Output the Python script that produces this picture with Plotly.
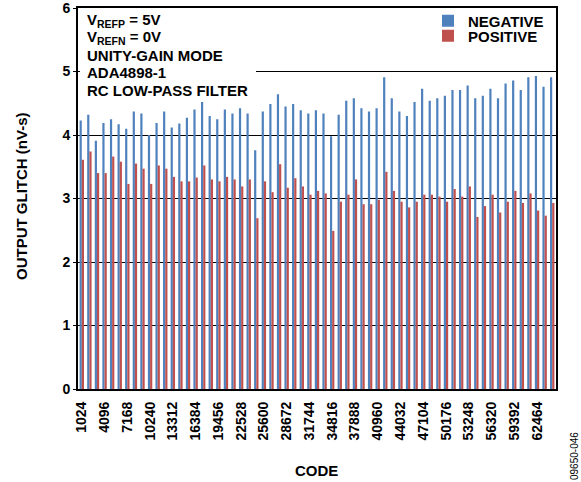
import plotly.graph_objects as go

# codes 1024 .. 64512, one every 1024
codes = ["1024", "2048", "3072", "4096", "5120", "6144", "7168", "8192", "9216", "10240",
         "11264", "12288", "13312", "14336", "15360", "16384", "17408", "18432", "19456", "20480",
         "21504", "22528", "23552", "24576", "25600", "26624", "27648", "28672", "29696", "30720",
         "31744", "32768", "33792", "34816", "35840", "36864", "37888", "38912", "39936", "40960",
         "41984", "43008", "44032", "45056", "46080", "47104", "48128", "49152", "50176", "51200",
         "52224", "53248", "54272", "55296", "56320", "57344", "58368", "59392", "60416", "61440",
         "62464", "63488", "64512"]

negative = [4.23, 4.32, 3.91, 4.19, 4.25, 4.17, 4.10, 4.37, 4.34, 4.00,
            4.19, 4.37, 4.12, 4.18, 4.27, 4.40, 4.52, 4.30, 4.25, 4.40,
            4.34, 4.42, 4.34, 3.76, 4.37, 4.49, 4.64, 4.45, 4.49, 4.39,
            4.34, 4.39, 4.34, 3.98, 4.32, 4.54, 4.58, 4.42, 4.37, 4.42,
            4.91, 4.58, 4.37, 4.30, 4.52, 4.73, 4.54, 4.58, 4.62, 4.71,
            4.71, 4.78, 4.58, 4.62, 4.73, 4.58, 4.81, 4.86, 4.71, 4.91,
            4.93, 4.76, 4.91]

positive = [3.61, 3.74, 3.40, 3.40, 3.66, 3.58, 3.23, 3.55, 3.47, 3.23,
            3.52, 3.47, 3.34, 3.27, 3.27, 3.33, 3.52, 3.30, 3.27, 3.34,
            3.30, 3.19, 3.30, 2.69, 3.27, 3.10, 3.54, 3.17, 3.32, 3.19,
            3.06, 3.12, 3.08, 2.49, 2.95, 3.06, 3.30, 2.91, 2.91, 2.98,
            3.42, 3.12, 2.95, 2.86, 2.95, 3.06, 3.06, 3.03, 2.95, 3.15,
            3.03, 3.19, 2.71, 2.88, 3.06, 2.78, 2.95, 3.12, 2.93, 3.08,
            2.81, 2.73, 2.93]

tick_labels = ["1024", "4096", "7168", "10240", "13312", "16384", "19456", "22528",
               "25600", "28672", "31744", "34816", "37888", "40960", "44032", "47104",
               "50176", "53248", "56320", "59392", "62464"]

y_ticks = [0, 1, 2, 3, 4, 5, 6]

conditions = ["V<sub>REFP</sub> = 5V", "V<sub>REFN</sub> = 0V", "UNITY-GAIN MODE",
              "ADA4898-1", "RC LOW-PASS FILTER"]

FONT = "Liberation Sans, Arial, sans-serif"
W, H = 581, 482
L, R, T, B = 78, 25, 8, 93
PW, PH = W - L - R, H - T - B


def px_x(x):
    return (x - L) / PW


def px_y(y):
    return (H - B - y) / PH


fig = go.Figure()
fig.add_trace(go.Bar(x=codes, y=negative, name="NEGATIVE", legend="legend",
                     marker=dict(color="#4F81BD", line=dict(width=0))))
fig.add_trace(go.Bar(x=codes, y=positive, name="POSITIVE", legend="legend2",
                     marker=dict(color="#C0504D", line=dict(width=0))))

leg = dict(xanchor="left", yanchor="middle", bgcolor="rgba(0,0,0,0)",
           font=dict(size=15, weight="bold"), itemwidth=30)

fig.update_layout(
    width=W, height=H,
    margin=dict(l=L, r=R, t=T, b=B, autoexpand=False),
    barmode="group", bargap=0.42, bargroupgap=0.0,
    plot_bgcolor="white", paper_bgcolor="white",
    font=dict(family=FONT, size=15, color="black", weight="bold"),
    legend=dict(x=px_x(428), y=px_y(21), **leg),
    legend2=dict(x=px_x(428), y=px_y(36), **leg),
    showlegend=True,
)

fig.update_yaxes(range=[0, 6], tickvals=y_ticks, showgrid=True, gridcolor="black", gridwidth=1,
                 zeroline=False, showline=True, linecolor="black", linewidth=2, mirror=True,
                 ticks="outside", ticklen=3, tickcolor="black", automargin=False,
                 ticklabeloverflow="allow", tickfont=dict(size=14, weight="bold"))
fig.update_xaxes(type="category", tickvals=tick_labels, ticktext=tick_labels, tickangle=-90,
                 showgrid=False, showline=True, linecolor="black", linewidth=2, mirror=True,
                 ticks="outside", ticklen=5, tickcolor="rgba(0,0,0,0)", automargin=False,
                 ticklabeloverflow="allow", tickfont=dict(size=14, weight="bold"))

# white box behind the conditions text, hides the 5 gridline on the left
fig.add_shape(type="rect", xref="paper", yref="paper", x0=px_x(80), x1=px_x(256),
              y0=px_y(100), y1=px_y(10), fillcolor="white", line=dict(width=0), layer="above")

line_y = [20, 37.5, 55, 73, 90.5]
for txt, yy in zip(conditions, line_y):
    fig.add_annotation(xref="paper", yref="paper", x=px_x(85), y=px_y(yy),
                       xanchor="left", yanchor="middle", showarrow=False, text=txt,
                       font=dict(size=15, weight="bold"))

fig.add_annotation(xref="paper", yref="paper", x=px_x(21), y=px_y(196), textangle=-90,
                   xanchor="center", yanchor="middle", showarrow=False,
                   text="OUTPUT GLITCH (nV-s)", font=dict(size=15, weight="bold"))
fig.add_annotation(xref="paper", yref="paper", x=px_x(316), y=px_y(471),
                   xanchor="center", yanchor="middle", showarrow=False,
                   text="CODE", font=dict(size=15, weight="bold"))
fig.add_annotation(xref="paper", yref="paper", x=px_x(574), y=px_y(456), textangle=-90,
                   xanchor="center", yanchor="middle", showarrow=False, text="09650-046",
                   font=dict(size=10, weight="normal"))

fig.write_html("out.html", config={"displayModeBar": False},
               post_script="document.body.style.margin='0';")
